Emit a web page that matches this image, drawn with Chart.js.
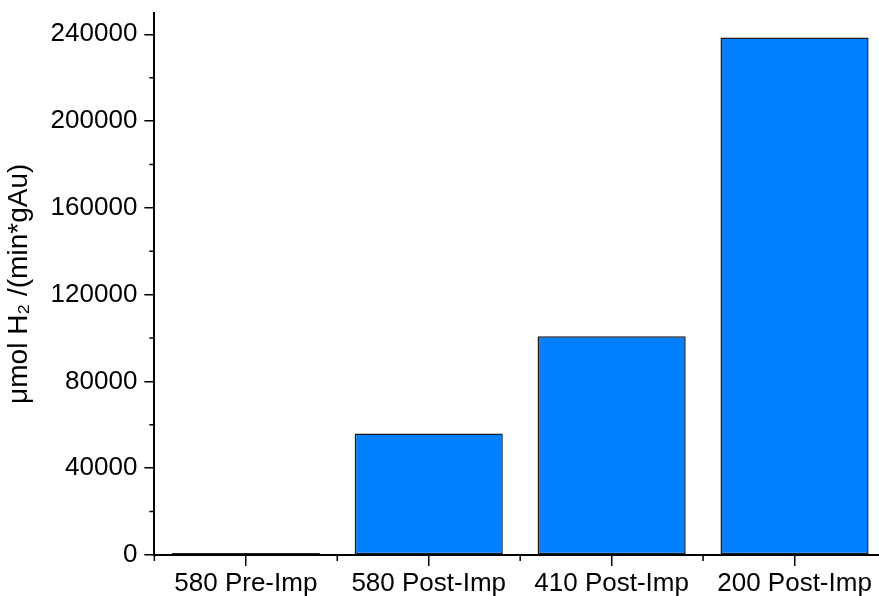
<!DOCTYPE html>
<html>
<head>
<meta charset="utf-8">
<script src="https://cdn.jsdelivr.net/npm/chart.js@4/dist/chart.umd.min.js"></script>
<style>
  html, body { margin: 0; padding: 0; background: #fff; overflow: hidden; }
  #wrap { position: relative; width: 888px; height: 612px; margin-top: -10px; }
</style>
</head>
<body>
<div id="wrap"><canvas id="h2Chart"></canvas></div>
<script>
// --- Daten ---
const categories = ['580 Pre-Imp', '580 Post-Imp', '410 Post-Imp', '200 Post-Imp'];
const rates = [900, 56000, 100800, 238500];
const yTicks = [0, 40000, 80000, 120000, 160000, 200000, 240000];
const yMinorTicks = [20000, 60000, 100000, 140000, 180000, 220000];

const FONT = "'Liberation Sans', Arial, sans-serif";

// kleine Striche (minor ticks) an beiden Achsen
const minorTicks = {
    id: 'minorTicks',
    afterDraw(chart) {
        const ctx = chart.ctx;
        const x = chart.scales.x;
        const y = chart.scales.y;
        const half = (x.getPixelForValue(1) - x.getPixelForValue(0)) / 2;
        ctx.save();
        ctx.strokeStyle = '#000';
        ctx.lineWidth = 1.5;
        ctx.beginPath();
        for (let i = 0; i <= categories.length; i++) {
            const px = x.getPixelForValue(0) - half + i * half * 2;
            ctx.moveTo(px, x.top);
            ctx.lineTo(px, x.top + 6);
        }
        yMinorTicks.forEach(v => {
            const py = y.getPixelForValue(v);
            ctx.moveTo(y.right, py);
            ctx.lineTo(y.right - 5, py);
        });
        ctx.stroke();
        ctx.restore();
    }
};

function initChart() {
    const ctx = document.getElementById('h2Chart').getContext('2d');
    new Chart(ctx, {
        type: 'bar',
        data: {
            labels: categories,
            datasets: [{
                data: rates,
                backgroundColor: '#0080ff',
                borderColor: '#1a1a1a',
                borderWidth: 1.5,
                borderSkipped: false,
                categoryPercentage: 1.0,
                barPercentage: 0.81
            }]
        },
        options: {
            responsive: true,
            maintainAspectRatio: false,
            animation: false,
            layout: { padding: { left: 2, right: 2, top: 0, bottom: 0 } },
            plugins: {
                legend: { display: false },
                tooltip: { enabled: false }
            },
            scales: {
                x: {
                    offset: true,
                    grid: { display: true, offset: false, drawOnChartArea: false, tickLength: 11, color: '#000', lineWidth: 1.5 },
                    border: { display: true, color: '#000', width: 2 },
                    ticks: { color: '#000', font: { family: FONT, size: 26, lineHeight: 1.0 }, padding: 5, maxRotation: 0 }
                },
                y: {
                    min: 0,
                    max: 250000,
                    afterBuildTicks: scale => { scale.ticks = yTicks.map(v => ({ value: v })); },
                    grid: { drawOnChartArea: false, tickLength: 10, color: '#000', lineWidth: 1.5 },
                    border: { display: true, color: '#000', width: 2 },
                    ticks: { color: '#000', font: { family: FONT, size: 26 }, padding: 7, callback: v => String(v) },
                    title: { display: true, text: 'μmol H₂ /(min*gAu)', color: '#000', font: { family: FONT, size: 28 }, padding: { top: 0, bottom: 8 } }
                }
            }
        },
        plugins: [minorTicks]
    });
}

window.onload = () => {
    initChart();
};
</script>
</body>
</html>
